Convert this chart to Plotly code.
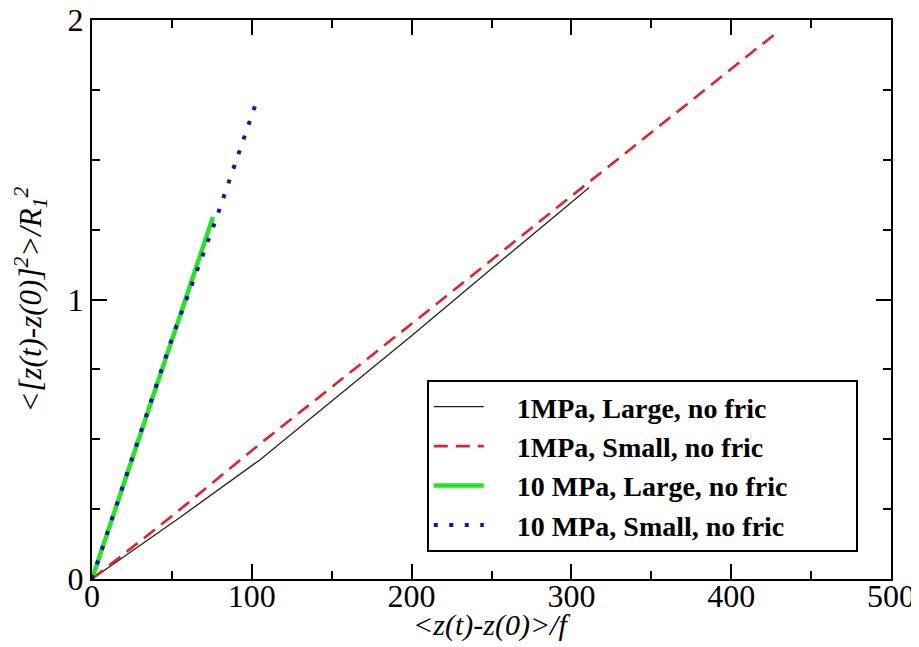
import plotly.graph_objects as go

# Data
x_1mpa_large = [0, 25, 50, 55, 105, 150, 200, 250, 311]
y_1mpa_large = [0, 0.10, 0.20, 0.22, 0.426, 0.635, 0.87, 1.11, 1.40]

x_1mpa_small = [0, 50, 105, 200, 311, 429]
y_1mpa_small = [0, 0.225, 0.483, 0.913, 1.42, 1.957]

x_10mpa_large = [0, 25, 50, 75.7]
y_10mpa_large = [0, 0.43, 0.86, 1.295]

x_10mpa_small = [0, 25, 50, 77.8, 103.3]
y_10mpa_small = [0, 0.43, 0.86, 1.29, 1.714]

names = ["1MPa, Large, no fric", "1MPa, Small, no fric",
         "10 MPa, Large, no fric", "10 MPa, Small, no fric"]

x_ticks = [0, 100, 200, 300, 400, 500]
y_ticks = [0, 1, 2]

x_title = "<i>&lt;z(t)-z(0)&gt;/f</i>"
y_title = "<i>&lt;[z(t)-z(0)]<sup>2</sup>&gt;/R<sub>1</sub><sup>2</sup></i>"

serif = "Liberation Serif, Times New Roman, serif"
lead = "&nbsp;" * 4
trail = "&nbsp;" * 9


def label(n):
    return lead + "<b>" + n + "</b>" + trail


fig = go.Figure()
fig.add_trace(go.Scatter(x=x_1mpa_large, y=y_1mpa_large, mode="lines", name=label(names[0]),
                         line=dict(color="#222222", width=1.3)))
fig.add_trace(go.Scatter(x=x_1mpa_small, y=y_1mpa_small, mode="lines", name=label(names[1]),
                         line=dict(color="#e0222c", width=2.6, dash="14px,8px")))
fig.add_trace(go.Scatter(x=x_10mpa_large, y=y_10mpa_large, mode="lines", name=label(names[2]),
                         line=dict(color="#22e622", width=4.5)))
fig.add_trace(go.Scatter(x=x_10mpa_small, y=y_10mpa_small, mode="lines", name=label(names[3]),
                         line=dict(color="#1414a8", width=4, dash="4px,11.5px")))

axis_common = dict(showline=True, linecolor="black", linewidth=2, mirror="allticks",
                   ticks="inside", ticklen=15, tickwidth=2, tickcolor="black",
                   showgrid=False, zeroline=False, automargin=False,
                   ticklabeloverflow="allow",
                   tickfont=dict(family=serif, size=32, color="black"))

fig.update_xaxes(range=[0, 500], tickvals=x_ticks, ticktext=[str(v) for v in x_ticks],
                 minor=dict(ticks="inside", ticklen=8, tickwidth=2, tickcolor="black", dtick=50),
                 ticklabelstandoff=-12,
                 **axis_common)
fig.update_yaxes(range=[0, 2], tickvals=y_ticks, ticktext=[str(v) for v in y_ticks],
                 minor=dict(ticks="inside", ticklen=8, tickwidth=2, tickcolor="black", dtick=0.25),
                 title=dict(text=y_title, font=dict(family=serif, size=31, color="black"), standoff=17),
                 **axis_common)

fig.add_annotation(text=x_title, xref="paper", yref="paper", x=0.5, y=-0.082,
                   xanchor="center", yanchor="middle", showarrow=False,
                   font=dict(family=serif, size=30, color="black"))

fig.update_layout(
    width=911, height=639,
    margin=dict(l=84, r=28, t=12, b=68, autoexpand=False),
    paper_bgcolor="white", plot_bgcolor="white",
    font=dict(family=serif, color="black"),
    showlegend=True,
    legend=dict(x=0.419, y=0.356, xanchor="left", yanchor="top",
                bgcolor="white", bordercolor="black", borderwidth=2,
                font=dict(family=serif, size=28, color="black"),
                itemwidth=50, tracegroupgap=0),
)

fig.write_html("out.html")
